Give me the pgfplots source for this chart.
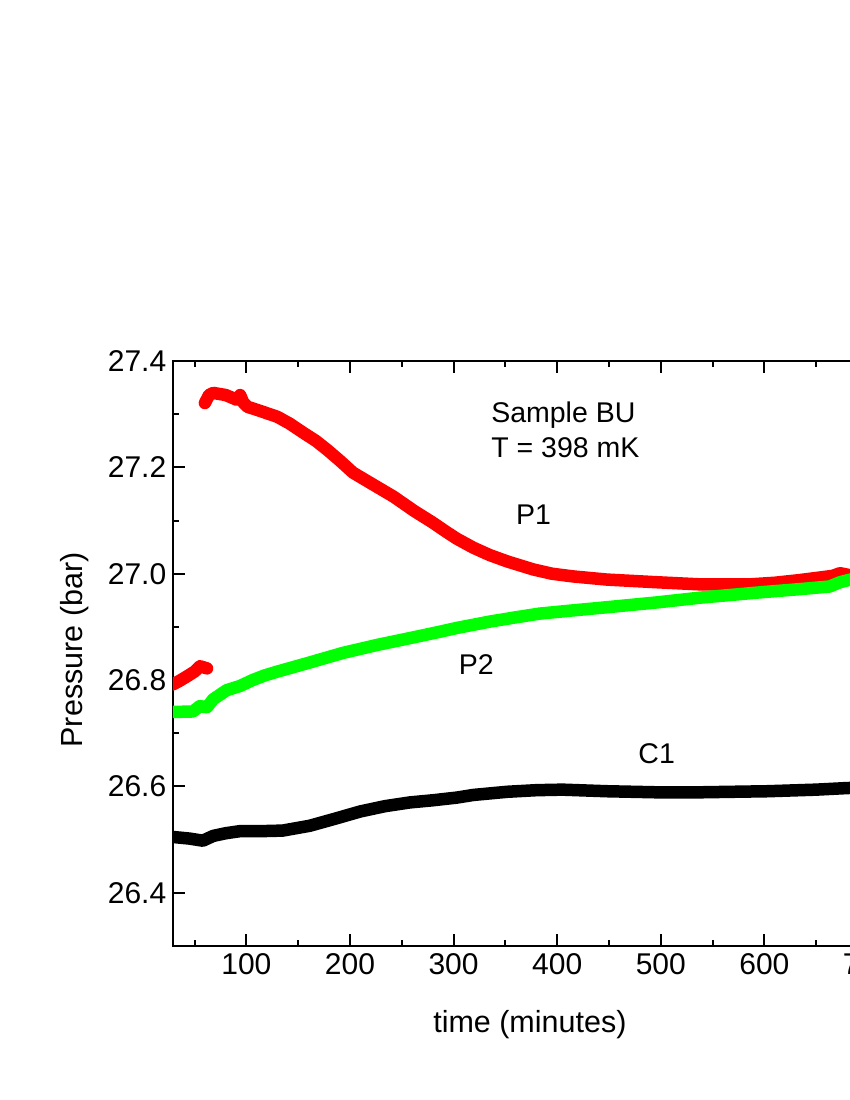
\documentclass[border=0pt]{standalone}
\usepackage{fontspec}
\setmainfont{Liberation Sans}
\usepackage{pgfplots}
\pgfplotsset{compat=1.18}

\begin{document}
\begin{tikzpicture}
\useasboundingbox (0pt,0pt) rectangle (850pt,1100pt);
\clip (0pt,0pt) rectangle (850pt,1100pt);
\begin{axis}[
  at={(172.8pt,154pt)}, anchor=south west,
  scale only axis, width=798.8pt, height=585pt,
  xmin=29, xmax=800, ymin=26.3, ymax=27.4,
  xtick={100,200,300,400,500,600,700,800},
  minor xtick={50,150,250,350,450,550,650,750},
  ytick={26.4,26.6,26.8,27.0,27.2,27.4},
  minor ytick={26.3,26.5,26.7,26.9,27.1,27.3},
  tick align=inside,
  major tick length=12pt, minor tick length=6pt,
  every tick/.style={black, line width=2pt},
  axis line style={line width=2pt},
  /pgf/number format/assume math mode=true,
  tick label style={font=\fontsize{30pt}{35pt}\selectfont},
  yticklabel style={/pgf/number format/.cd, fixed, fixed zerofill, precision=1, /tikz/.cd, xshift=-3pt},
  xticklabel style={yshift=-4pt},
  xlabel={time (minutes)}, ylabel={Pressure (bar)},
  label style={font=\fontsize{30.5pt}{35pt}\selectfont},
  xlabel style={at={(axis description cs:0.447,-0.135)}, anchor=center},
  ylabel style={at={(axis description cs:-0.1224,0.506)}, anchor=center},
  every axis plot/.append style={line width=12.5pt, line cap=round, line join=round},
]
% P1 (red), lower short segment
\addplot[red, no markers] coordinates {
(29.2,26.792)(35,26.798)(42.7,26.807)(50,26.816)(55.3,26.826)(62,26.822)
};
% P1 (red), main curve
\addplot[red, no markers] coordinates {
(60,27.321)(64,27.336)(68,27.340)(80,27.336)(91,27.327)(94,27.336)(97,27.322)
(101,27.314)(115,27.305)(130,27.295)(142,27.282)(155,27.265)(167,27.250)
(178,27.233)(190,27.213)(203,27.190)(222,27.168)(242,27.145)(262,27.118)
(280,27.096)(292,27.080)(303,27.066)(319,27.049)(335,27.035)(352,27.023)
(377,27.008)(395,27.000)(415,26.995)(448,26.989)(496,26.984)(538,26.980)
(586,26.980)(610,26.983)(634,26.988)(666,26.996)(673,27.001)(683,26.997)
(698,26.996)
};
% P2 (green)
\addplot[color={rgb,255:red,0;green,255;blue,0}, no markers] coordinates {
(29.2,26.740)(48.5,26.741)(55,26.751)(62,26.749)(68,26.764)(81,26.781)
(94,26.789)(106,26.800)(118,26.809)(130,26.816)(161,26.833)(193,26.851)
(226,26.866)(258,26.879)(287,26.891)(303,26.898)(335,26.910)(360,26.918)
(383,26.925)(415,26.931)(448,26.937)(496,26.946)(538,26.955)(596,26.965)
(634,26.971)(663,26.976)(673,26.984)(683,26.989)(698,26.991)
};
% C1 (black)
\addplot[black, no markers] coordinates {
(29.2,26.505)(45,26.502)(58,26.498)(68,26.507)(80,26.512)(94,26.516)
(115,26.516)(135,26.517)(161,26.526)(185,26.539)(210,26.553)(234,26.563)
(258,26.570)(280,26.574)(303,26.579)(319,26.584)(352,26.590)(380,26.593)
(405,26.594)(448,26.591)(496,26.589)(538,26.589)(603,26.591)(650,26.594)
(680,26.597)(698,26.598)
};
\node[anchor=base west, font=\fontsize{28.5pt}{33pt}\selectfont] at (axis cs:333,27.284) {Sample BU};
\node[anchor=base west, font=\fontsize{28.5pt}{33pt}\selectfont] at (axis cs:333,27.218) {T = 398 mK};
\node[anchor=base west, font=\fontsize{28.5pt}{33pt}\selectfont] at (axis cs:357,27.092) {P1};
\node[anchor=center, font=\fontsize{28.5pt}{33pt}\selectfont] at (axis cs:322,26.830) {P2};
\node[anchor=center, font=\fontsize{28.5pt}{33pt}\selectfont] at (axis cs:496,26.661) {C1};
\end{axis}
\end{tikzpicture}
\end{document}
